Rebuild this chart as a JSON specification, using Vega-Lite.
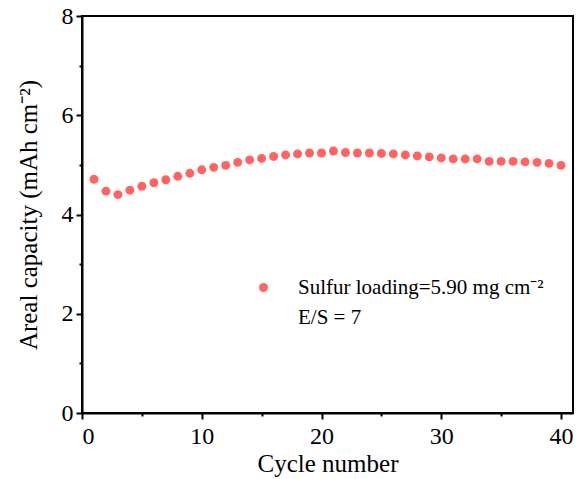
{
  "$schema": "https://vega.github.io/schema/vega-lite/v6.json",
  "width": 491,
  "height": 397,
  "autosize": "none",
  "padding": {"left": 82, "top": 16, "right": 5, "bottom": 66},
  "background": "white",
  "config": {
    "font": "Liberation Serif",
    "view": {"stroke": "black", "strokeWidth": 2},
    "axis": {
      "domainColor": "black",
      "domainWidth": 2,
      "tickColor": "black",
      "tickWidth": 2,
      "grid": false,
      "labelColor": "black",
      "titleColor": "black",
      "labelFont": "Liberation Serif",
      "titleFont": "Liberation Serif",
      "titleFontWeight": "normal"
    }
  },
  "data": {
    "values": [
      {"cycle": 1, "capacity": 4.71},
      {"cycle": 2, "capacity": 4.47},
      {"cycle": 3, "capacity": 4.40},
      {"cycle": 4, "capacity": 4.49},
      {"cycle": 5, "capacity": 4.57},
      {"cycle": 6, "capacity": 4.64},
      {"cycle": 7, "capacity": 4.70},
      {"cycle": 8, "capacity": 4.77},
      {"cycle": 9, "capacity": 4.83},
      {"cycle": 10, "capacity": 4.90},
      {"cycle": 11, "capacity": 4.95},
      {"cycle": 12, "capacity": 4.99},
      {"cycle": 13, "capacity": 5.05},
      {"cycle": 14, "capacity": 5.10},
      {"cycle": 15, "capacity": 5.13},
      {"cycle": 16, "capacity": 5.17},
      {"cycle": 17, "capacity": 5.20},
      {"cycle": 18, "capacity": 5.22},
      {"cycle": 19, "capacity": 5.24},
      {"cycle": 20, "capacity": 5.24},
      {"cycle": 21, "capacity": 5.28},
      {"cycle": 22, "capacity": 5.25},
      {"cycle": 23, "capacity": 5.24},
      {"cycle": 24, "capacity": 5.24},
      {"cycle": 25, "capacity": 5.23},
      {"cycle": 26, "capacity": 5.22},
      {"cycle": 27, "capacity": 5.20},
      {"cycle": 28, "capacity": 5.18},
      {"cycle": 29, "capacity": 5.16},
      {"cycle": 30, "capacity": 5.14},
      {"cycle": 31, "capacity": 5.12},
      {"cycle": 32, "capacity": 5.12},
      {"cycle": 33, "capacity": 5.12},
      {"cycle": 34, "capacity": 5.07},
      {"cycle": 35, "capacity": 5.07},
      {"cycle": 36, "capacity": 5.07},
      {"cycle": 37, "capacity": 5.06},
      {"cycle": 38, "capacity": 5.05},
      {"cycle": 39, "capacity": 5.03},
      {"cycle": 40, "capacity": 4.99}
    ]
  },
  "layer": [
    {
      "mark": {"type": "point", "filled": true, "opacity": 1, "size": 0},
      "encoding": {
        "x": {
          "field": "cycle", "type": "quantitative",
          "scale": {"domain": [0, 41], "nice": false, "zero": false},
          "axis": {"values": [5, 15, 25, 35], "labels": false, "domain": false, "tickSize": 3, "title": null}
        },
        "y": {
          "field": "capacity", "type": "quantitative",
          "scale": {"domain": [0, 8], "nice": false},
          "axis": {"orient": "left", "values": [1, 3, 5, 7], "labels": false, "domain": false, "tickSize": 3, "title": null}
        }
      }
    },
    {
      "mark": {"type": "point", "filled": true, "opacity": 1, "size": 80},
      "encoding": {
        "x": {
          "field": "cycle", "type": "quantitative",
          "scale": {"domain": [0, 41], "nice": false, "zero": false},
          "axis": {
            "orient": "bottom",
            "values": [0, 10, 20, 30, 40],
            "tickSize": 6,
            "labelFont": "Liberation Serif",
            "labelFontSize": 24,
            "labelPadding": 5,
            "title": "Cycle number",
            "titleFont": "Liberation Serif",
            "titleFontSize": 25,
            "titlePadding": 3
          }
        },
        "y": {
          "field": "capacity", "type": "quantitative",
          "scale": {"domain": [0, 8], "nice": false},
          "axis": {
            "orient": "left",
            "values": [0, 2, 4, 6, 8],
            "tickSize": 6,
            "labelFont": "Liberation Serif",
            "labelFontSize": 24,
            "labelPadding": 3,
            "title": "Areal capacity (mAh cm⁻²)",
            "titleFont": "Liberation Serif",
            "titleFontSize": 25,
            "titlePadding": 20
          }
        },
        "color": {
          "datum": "Sulfur loading=5.90 mg cm⁻²",
          "type": "nominal",
          "scale": {
            "domain": ["Sulfur loading=5.90 mg cm⁻²", "E/S = 7"],
            "range": ["#ff6464", "rgba(0,0,0,0)"]
          },
          "legend": {
            "orient": "none",
            "legendX": 171,
            "legendY": 261,
            "title": null,
            "symbolType": "circle",
            "symbolSize": 80,
            "symbolStrokeWidth": 0,
            "labelFont": "Liberation Serif",
            "labelFontSize": 21,
            "labelColor": "black",
            "labelOffset": 24,
            "rowPadding": 8,
            "labelLimit": 400
          }
        }
      }
    }
  ],
  "resolve": {"axis": {"x": "independent", "y": "independent"}}
}
